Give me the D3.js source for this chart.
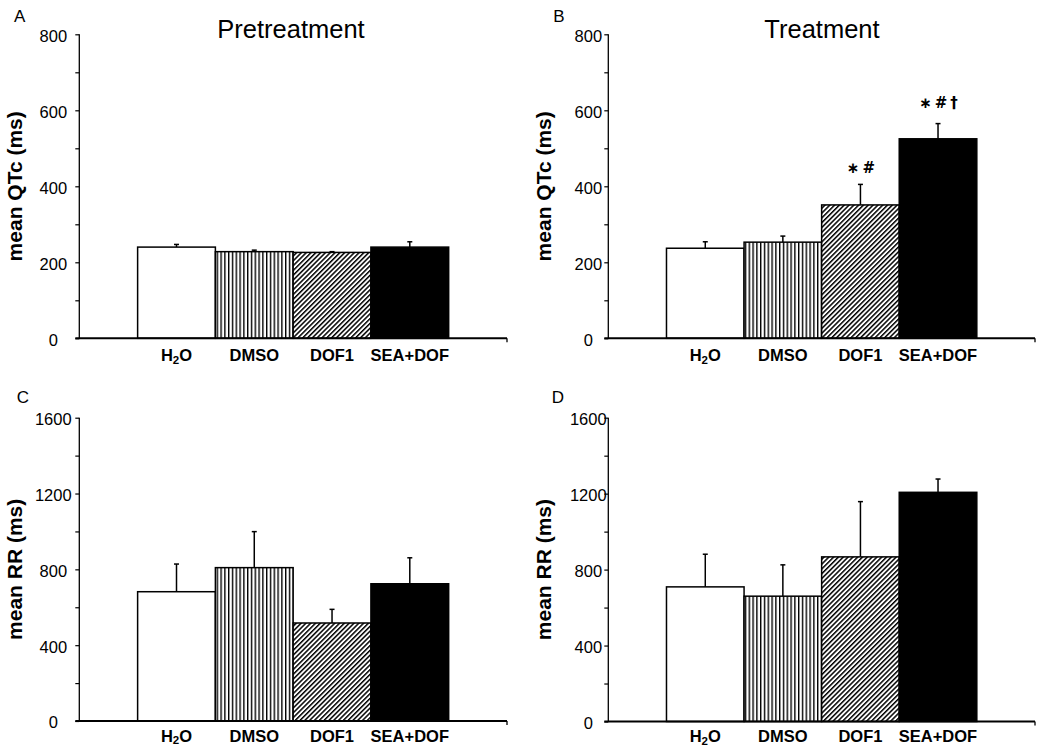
<!DOCTYPE html>
<html><head><meta charset="utf-8">
<script src="https://cdn.jsdelivr.net/npm/d3@7"></script>
<style>
html,body{margin:0;padding:0;background:#fff;}
svg{display:block;font-family:"Liberation Sans",Arial,sans-serif;}
</style></head>
<body>
<svg id="chart" width="1039" height="748"></svg>
<script>
// ---- data ----
const categories = ["H2O", "DMSO", "DOF1", "SEA+DOF"];
const qtcPre = [240, 228, 226, 240];
const qtcPreErr = [7, 4, 2, 14];
const qtcTreat = [237, 253, 351, 525];
const qtcTreatErr = [17, 16, 54, 40];
const rrPre = [682, 809, 517, 724];
const rrPreErr = [146, 190, 72, 137];
const rrTreat = [709, 660, 867, 1207];
const rrTreatErr = [172, 165, 291, 70];
const qtcTickLabels = [0, 200, 400, 600, 800];
const rrTickLabels = [0, 400, 800, 1200, 1600];
const treatSignif = ["", "", "\u2217#", "\u2217#\u2020"];

const svg = d3.select("#chart");
const defs = svg.append("defs");

// patterns
const pv = defs.append("pattern").attr("id", "vert").attr("patternUnits", "userSpaceOnUse")
  .attr("width", 3.8).attr("height", 10);
pv.append("rect").attr("width", 3.8).attr("height", 10).attr("fill", "#fff");
pv.append("rect").attr("x", 0).attr("width", 1.4).attr("height", 10).attr("fill", "#000");

const pd = defs.append("pattern").attr("id", "diag").attr("patternUnits", "userSpaceOnUse")
  .attr("width", 3.4).attr("height", 10).attr("patternTransform", "rotate(45)");
pd.append("rect").attr("width", 3.4).attr("height", 10).attr("fill", "#fff");
pd.append("rect").attr("x", 0).attr("width", 1.5).attr("height", 10).attr("fill", "#000");

const fills = ["#fff", "url(#vert)", "url(#diag)", "#000"];

const panels = [
  {letter: "A", lx: 14, ly: 21.7, title: "Pretreatment", tx: 291, ty: 38.3,
   x0: 79.3, x1: 507, yTop: 34.3, yBot: 338.3, max: 800, step: 100, labels: qtcTickLabels,
   vals: qtcPre, errs: qtcPreErr, ylab: "mean QTc (ms)", labOff: 26, sig: null, xlabOff: 22.7},
  {letter: "B", lx: 553.3, ly: 21.7, title: "Treatment", tx: 822, ty: 38.3,
   x0: 608.3, x1: 1035, yTop: 34.3, yBot: 338.3, max: 800, step: 100, labels: qtcTickLabels,
   vals: qtcTreat, errs: qtcTreatErr, ylab: "mean QTc (ms)", labOff: 20, sig: treatSignif, xlabOff: 22.7},
  {letter: "C", lx: 16.7, ly: 403.3, title: null,
   x0: 79.3, x1: 507, yTop: 417.7, yBot: 721, max: 1600, step: 200, labels: rrTickLabels,
   vals: rrPre, errs: rrPreErr, ylab: "mean RR (ms)", labOff: 26, sig: null, xlabOff: 20.7},
  {letter: "D", lx: 551.7, ly: 403.3, title: null,
   x0: 608.3, x1: 1035, yTop: 417.7, yBot: 721.5, max: 1600, step: 200, labels: rrTickLabels,
   vals: rrTreat, errs: rrTreatErr, ylab: "mean RR (ms)", labOff: 20, sig: null, xlabOff: 20.7}
];

const sigOffsets = [0, 0, 11, 16];

panels.forEach(p => {
  const g = svg.append("g");
  const x = d3.scaleBand().domain(categories).range([p.x0, p.x1]).paddingInner(0).paddingOuter(0.75);
  const y = d3.scaleLinear().domain([0, p.max]).range([p.yBot, p.yTop]);

  // letter & title
  g.append("text").attr("x", p.lx).attr("y", p.ly).attr("font-size", 17).text(p.letter);
  if (p.title) g.append("text").attr("x", p.tx).attr("y", p.ty).attr("text-anchor", "middle")
    .attr("font-size", 25.5).text(p.title);

  // error bars (upper)
  categories.forEach((c, i) => {
    const v = p.vals[i], e = p.errs[i];
    const cx = x(c) + x.bandwidth() / 2;
    g.append("line").attr("x1", cx).attr("x2", cx).attr("y1", y(v)).attr("y2", y(v + e))
      .attr("stroke", "#000").attr("stroke-width", 1.5);
    g.append("line").attr("x1", cx - 2.5).attr("x2", cx + 2.5).attr("y1", y(v + e)).attr("y2", y(v + e))
      .attr("stroke", "#000").attr("stroke-width", 1.5);
  });
  // bars
  categories.forEach((c, i) => {
    const v = p.vals[i];
    g.append("rect").attr("x", x(c)).attr("y", y(v)).attr("width", x.bandwidth())
      .attr("height", y(0) - y(v)).attr("fill", fills[i]).attr("stroke", "#000").attr("stroke-width", 1.5);
  });

  // significance labels
  if (p.sig) {
    categories.forEach((c, i) => {
      if (!p.sig[i]) return;
      const cx = x(c) + x.bandwidth() / 2;
      g.append("text").attr("x", cx + 2).attr("y", y(p.vals[i] + p.errs[i]) - sigOffsets[i])
        .attr("text-anchor", "middle").attr("font-size", 15).attr("font-weight", "bold")
        .attr("letter-spacing", 3).attr("font-family", "DejaVu Sans, sans-serif").text(p.sig[i]);
    });
  }

  // y axis
  const tickVals = d3.range(0, p.max + 1, p.step);
  const yAxis = d3.axisLeft(y).tickValues(tickVals).tickSize(4).tickSizeOuter(0)
    .tickFormat(d => p.labels.includes(d) ? d : "");
  const ya = g.append("g").attr("transform", `translate(${p.x0},0)`).call(yAxis);
  ya.select(".domain").attr("stroke-width", 1.3).attr("d", `M0,${p.yTop}V${p.yBot}`);
  ya.selectAll(".tick line").attr("stroke-width", 1.2);
  ya.selectAll(".tick text").attr("font-size", 16.5).attr("font-family", "Liberation Sans, Arial, sans-serif")
    .attr("text-anchor", "middle").attr("x", -p.labOff).attr("dy", "0.42em").attr("fill", "#000");

  // x axis
  const xAxis = d3.axisBottom(x).tickSize(0).tickSizeOuter(0).tickFormat("");
  const xa = g.append("g").attr("transform", `translate(0,${p.yBot})`).call(xAxis);
  xa.select(".domain").attr("stroke-width", 2).attr("d", `M${p.x0 - 4},0H${p.x1}`);
  xa.append("line").attr("x1", p.x1).attr("x2", p.x1).attr("y1", 0).attr("y2", 4)
    .attr("stroke", "#000").attr("stroke-width", 1.3);
  categories.forEach(c => {
    const t = g.append("text").attr("x", x(c) + x.bandwidth() / 2).attr("y", p.yBot + p.xlabOff)
      .attr("text-anchor", "middle").attr("font-size", 16.5).attr("font-weight", "bold");
    if (c === "H2O") {
      t.append("tspan").text("H");
      t.append("tspan").attr("font-size", 11.5).attr("dy", 2.5).text("2");
      t.append("tspan").attr("dy", -2.5).text("O");
    } else t.text(c);
  });

  // y label
  const ymid = (p.yTop + p.yBot) / 2;
  g.append("text").attr("transform", `translate(${p.x0 - 57},${ymid}) rotate(-90)`)
    .attr("text-anchor", "middle").attr("font-size", 21).attr("font-weight", "bold").text(p.ylab);
});
</script>
</body></html>
